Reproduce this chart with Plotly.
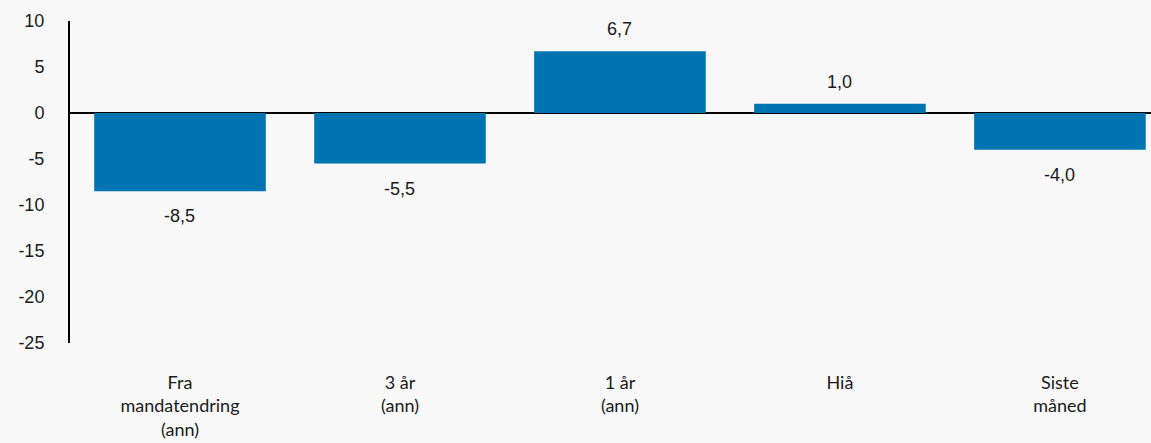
import plotly.graph_objects as go

categories = ["Fra<br>mandatendring<br>(ann)", "3 år<br>(ann)", "1 år<br>(ann)", "Hiå", "Siste<br>måned"]
values = [-8.5, -5.5, 6.7, 1.0, -4.0]
y_ticks = [10, 5, 0, -5, -10, -15, -20, -25]

bar_color = "#0074B0"
bg = "#F8F8F8"
num_font = "Liberation Sans, Arial, sans-serif"
cat_font = "Lato, Open Sans, sans-serif"


def fmt(v):
    return f"{v:.1f}".replace(".", ",")


fig = go.Figure(
    go.Bar(
        x=list(range(len(categories))),
        y=values,
        marker=dict(color=bar_color, line=dict(width=0)),
        width=0.78,
        hoverinfo="skip",
    )
)

for i, v in enumerate(values):
    fig.add_annotation(
        x=i, y=v, text=fmt(v), showarrow=False,
        yshift=22 if v >= 0 else -25,
        font=dict(family=num_font, size=18, color="#1a1a1a"),
    )

fig.update_layout(
    width=1151, height=443,
    margin=dict(l=70, r=0, t=21, b=100),
    paper_bgcolor=bg, plot_bgcolor=bg,
    showlegend=False,
    xaxis=dict(
        range=[-0.5, 4.414],
        tickmode="array",
        tickvals=list(range(len(categories))),
        ticktext=categories,
        tickfont=dict(family=cat_font, size=18, color="#1a1a1a"),
        showgrid=False, zeroline=False, showline=False,
        ticks="", ticklabelstandoff=27,
    ),
    yaxis=dict(
        range=[-25, 10],
        tickmode="array",
        tickvals=y_ticks,
        ticktext=[str(t) for t in y_ticks],
        tickfont=dict(family=num_font, size=18, color="#1a1a1a"),
        showgrid=False,
        zeroline=True, zerolinecolor="#000000", zerolinewidth=2,
        showline=True, linecolor="#000000", linewidth=2,
        ticks="", ticklabelstandoff=20,
    ),
)

fig.write_html("out.html")
